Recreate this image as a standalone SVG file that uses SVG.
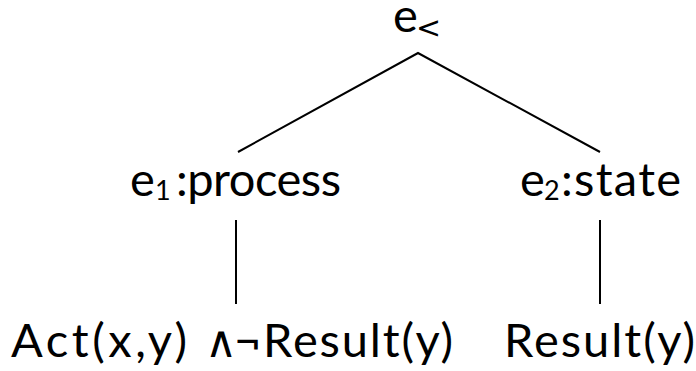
<svg xmlns="http://www.w3.org/2000/svg" width="696" height="371" viewBox="0 0 696 371">
  <style>
    .t { font-family: Lato, "DejaVu Sans", sans-serif; font-size: 47px; fill: #000; }
    .sub { font-family: Lato, "DejaVu Sans", sans-serif; font-size: 27px; fill: #000; }
    .op { font-family: "DejaVu Sans", sans-serif; fill: #000; }
    .edge { stroke: #000; stroke-width: 2; fill: none; stroke-linecap: butt; }
  </style>
  <rect width="696" height="371" fill="#fff"/>

  <g id="connectors">
    <polyline class="edge" points="238,152 418,53 600,152"/>
    <line class="edge" x1="236" y1="220" x2="236" y2="304"/>
    <line class="edge" x1="600" y1="220" x2="600" y2="304"/>
  </g>

  <g id="root">
    <text class="t" x="393" y="32">e</text>
    <text class="op" x="416" y="38" font-size="30">&lt;</text>
  </g>

  <g id="e1">
    <text class="t" x="130" y="196">e</text>
    <text class="sub" x="155" y="200">1</text>
    <text class="t" x="176" y="196" textLength="165">:process</text>
  </g>

  <g id="e2">
    <text class="t" x="520" y="196">e</text>
    <text class="sub" x="544" y="200">2</text>
    <text class="t" x="561" y="196" textLength="120">:state</text>
  </g>

  <g id="e1-formula">
    <text class="t" x="11" y="356.5" textLength="176">Act(x,y)</text>
    <text class="op" x="205" y="357" font-size="44">∧</text>
    <text class="t" x="234" y="356.5" textLength="219">¬Result(y)</text>
  </g>

  <g id="e2-formula">
    <text class="t" x="504" y="356.5" textLength="191">Result(y)</text>
  </g>
</svg>
